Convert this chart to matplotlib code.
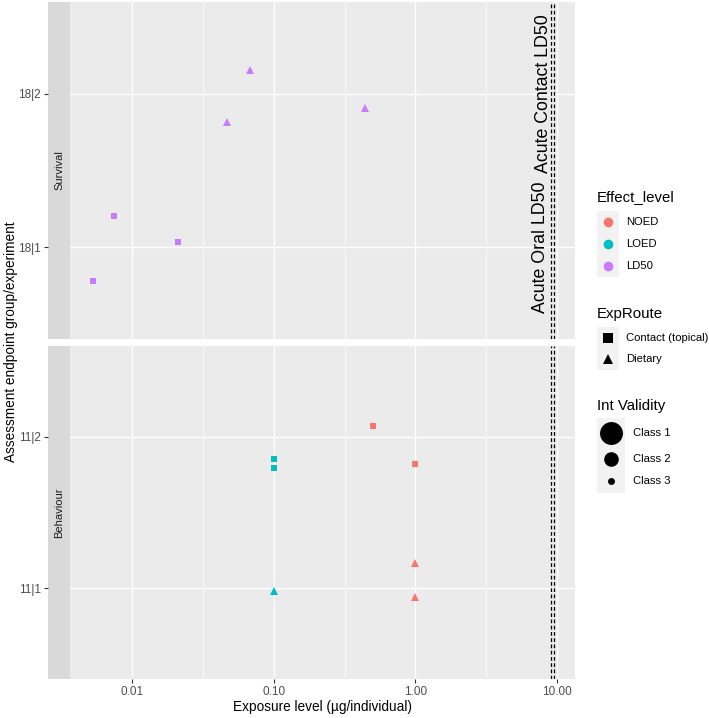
import matplotlib
matplotlib.use("Agg")
import matplotlib.pyplot as plt
import numpy as np

plt.rcParams['font.family'] = ['Liberation Sans', 'DejaVu Sans']

# ---------------- data ----------------
exposure = [0.0053, 0.0075, 0.021, 0.047, 0.068, 0.44,
            0.10, 0.10, 0.10, 0.50, 1.0, 1.0, 1.0]
endpoint = ['Survival'] * 6 + ['Behaviour'] * 7
group = ['18|1', '18|1', '18|1', '18|2', '18|2', '18|2',
         '11|2', '11|2', '11|1', '11|2', '11|2', '11|1', '11|1']
jitter = [-0.22, 0.205, 0.03, -0.185, 0.157, -0.092,
          -0.148, -0.205, -0.018, 0.073, -0.179, 0.164, -0.058]
effect = ['LD50'] * 6 + ['LOED'] * 3 + ['NOED'] * 4
route = ['Contact (topical)', 'Contact (topical)', 'Contact (topical)',
         'Dietary', 'Dietary', 'Dietary',
         'Contact (topical)', 'Contact (topical)', 'Dietary',
         'Contact (topical)', 'Contact (topical)', 'Dietary', 'Dietary']

panels = ['Survival', 'Behaviour']
panel_levels = {'Survival': ['18|1', '18|2'], 'Behaviour': ['11|1', '11|2']}

effect_levels = ['NOED', 'LOED', 'LD50']
effect_colors = {'NOED': '#F8766D', 'LOED': '#00BFC4', 'LD50': '#C77CFF'}
route_levels = ['Contact (topical)', 'Dietary']
route_markers = {'Contact (topical)': 's', 'Dietary': '^'}
validity_levels = ['Class 1', 'Class 2', 'Class 3']
validity_sizes = {'Class 1': 16.5, 'Class 2': 10.5, 'Class 3': 5.0}

ld50_values = [9.1, 9.6]
ld50_labels = ['Acute Oral LD50', 'Acute Contact LD50']
ld50_ylevel = [1, 2]

x_ticks = [0.01, 0.1, 1.0, 10.0]
x_ticklabels = ['0.01', '0.10', '1.00', '10.00']

# ---------------- layout ----------------
W, H = 709, 718
fig = plt.figure(figsize=(W / 100, H / 100), dpi=100)
fig.patch.set_facecolor('white')


def rect(x0, y0, x1, y1):
    return [x0 / W, 1 - y1 / H, (x1 - x0) / W, (y1 - y0) / H]


panel_y = {'Survival': (2, 339), 'Behaviour': (346, 679)}
PX0, PX1 = 70, 575
SX0 = 48
xlim = (10 ** -2.438, 10 ** 1.127)

for p in panels:
    y0, y1 = panel_y[p]
    ax = fig.add_axes(rect(PX0, y0, PX1, y1))
    ax.set_facecolor('#EBEBEB')
    ax.set_xscale('log')
    ax.set_xlim(*xlim)
    ax.set_ylim(0.4, 2.6)
    for s in ax.spines.values():
        s.set_visible(False)
    # grid
    for t in x_ticks:
        ax.axvline(t, color='white', lw=1.0, zorder=0.5)
    for t in [10 ** -1.5, 10 ** -0.5, 10 ** 0.5]:
        ax.axvline(t, color='white', lw=0.5, zorder=0.5)
    for t in [1, 2]:
        ax.axhline(t, color='white', lw=1.0, zorder=0.5)
    ax.set_yticks([])
    ax.yaxis.set_minor_locator(matplotlib.ticker.NullLocator())
    ax.xaxis.set_minor_locator(matplotlib.ticker.NullLocator())
    if p == 'Behaviour':
        ax.set_xticks(x_ticks)
        ax.set_xticklabels(x_ticklabels)
        ax.tick_params(axis='x', length=3, width=0.8, color='#333333',
                       labelcolor='#4D4D4D', labelsize=8.5, pad=2)
    else:
        ax.set_xticks([])

    # points
    for i in range(len(exposure)):
        if endpoint[i] != p:
            continue
        yv = panel_levels[p].index(group[i]) + 1 + jitter[i]
        ax.plot(exposure[i], yv, linestyle='none',
                marker=route_markers[route[i]],
                markersize=5.4 if route[i] == 'Dietary' else 4.9,
                color=effect_colors[effect[i]], markeredgewidth=0, zorder=3)

    # LD50 reference lines
    for v in ld50_values:
        ax.axvline(v, color='black', lw=0.9, linestyle=(0, (3, 2)), zorder=2)
    if p == 'Survival':
        for v, lab, yl in zip(ld50_values, ld50_labels, ld50_ylevel):
            ax.annotate(lab, xy=(v, yl), xytext=(-1.5, 0),
                        textcoords='offset points', rotation=90,
                        ha='right', va='center', fontsize=12.8,
                        color='black', zorder=4)

    # strip (with y axis ticks)
    st = fig.add_axes(rect(SX0, y0, PX0, y1))
    st.set_facecolor('#D9D9D9')
    st.set_ylim(0.4, 2.6)
    st.set_xlim(0, 1)
    for s in st.spines.values():
        s.set_visible(False)
    st.set_xticks([])
    st.set_yticks([1, 2])
    st.set_yticklabels(panel_levels[p])
    st.tick_params(axis='y', length=3, width=0.8, color='#333333',
                   labelcolor='#4D4D4D', labelsize=8.5, pad=2)
    st.text(0.5, 1.5, p, rotation=90, ha='center', va='center',
            fontsize=8, color='#1A1A1A')

# axis titles
fig.text((PX0 + PX1) / 2 / W, 1 - 707 / H, 'Exposure level (µg/individual)',
         ha='center', va='center', fontsize=9.8, color='black')
fig.text(11 / W, 1 - 342 / H, 'Assessment endpoint group/experiment',
         ha='center', va='center', rotation=90, fontsize=9.8, color='black')

# ---------------- legends ----------------
lg = fig.add_axes([0, 0, 1, 1], zorder=-1)
lg.set_xlim(0, W)
lg.set_ylim(H, 0)
lg.axis('off')

title_x = 597
key_bg = '#F2F2F2'

# Effect_level
lg.text(title_x, 197, 'Effect_level', ha='left', va='center', fontsize=10.8)
ys = [222, 244, 266]
lg.add_patch(plt.Rectangle((597, 211), 22, 66, color=key_bg, lw=0))
for lev, yy in zip(effect_levels, ys):
    lg.plot(608, yy, 'o', color=effect_colors[lev], markersize=7,
            markeredgewidth=0)
    lg.text(626, yy, lev, ha='left', va='center', fontsize=8.1)

# ExpRoute
lg.text(title_x, 314, 'ExpRoute', ha='left', va='center', fontsize=10.8)
ys = [338, 359]
lg.add_patch(plt.Rectangle((597, 327), 22, 43, color=key_bg, lw=0))
for lev, yy in zip(route_levels, ys):
    lg.plot(608, yy, route_markers[lev], color='black', markersize=7,
            markeredgewidth=0)
    lg.text(626, yy, lev, ha='left', va='center', fontsize=8.1)

# Int Validity
lg.text(title_x, 406, 'Int Validity', ha='left', va='center', fontsize=10.8)
ys = [433, 459, 481]
lg.add_patch(plt.Rectangle((597, 418), 28, 75, color=key_bg, lw=0))
for lev, yy in zip(validity_levels, ys):
    lg.plot(611, yy, 'o', color='black', markersize=validity_sizes[lev],
            markeredgewidth=0)
    lg.text(633, yy, lev, ha='left', va='center', fontsize=8.1)

fig.savefig('out.png', dpi=100)
